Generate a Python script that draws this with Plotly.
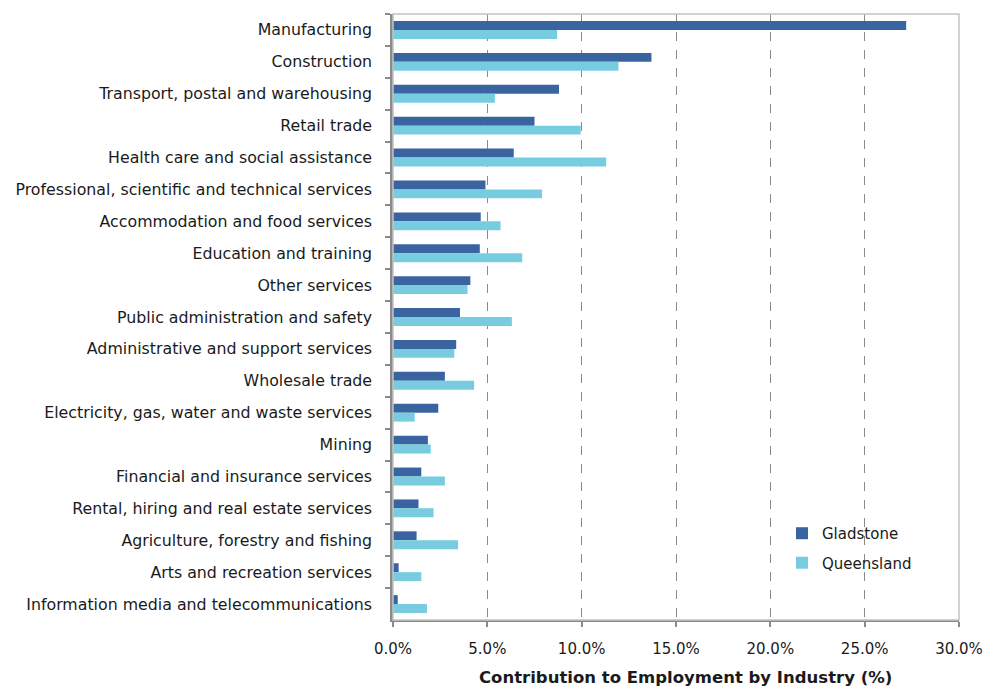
import plotly.graph_objects as go

industries = [
    "Manufacturing",
    "Construction",
    "Transport, postal and warehousing",
    "Retail trade",
    "Health care and social assistance",
    "Professional, scientific and technical services",
    "Accommodation and food services",
    "Education and training",
    "Other services",
    "Public administration and safety",
    "Administrative and support services",
    "Wholesale trade",
    "Electricity, gas, water and waste services",
    "Mining",
    "Financial and insurance services",
    "Rental, hiring and real estate services",
    "Agriculture, forestry and fishing",
    "Arts and recreation services",
    "Information media and telecommunications",
]
gladstone = [27.2, 13.7, 8.8, 7.5, 6.4, 4.9, 4.65, 4.6, 4.1, 3.55, 3.35, 2.75,
             2.4, 1.85, 1.5, 1.35, 1.25, 0.3, 0.25]
queensland = [8.7, 11.95, 5.4, 9.95, 11.3, 7.9, 5.7, 6.85, 3.95, 6.3, 3.25, 4.3,
              1.15, 2.0, 2.75, 2.15, 3.45, 1.5, 1.8]
x_ticks = [0, 5, 10, 15, 20, 25, 30]
x_tick_labels = ["0.0%", "5.0%", "10.0%", "15.0%", "20.0%", "25.0%", "30.0%"]

FONT = "Tahoma, DejaVu Sans, sans-serif"
TEXT = "#1a1a1a"

fig = go.Figure()
fig.add_trace(go.Bar(
    y=industries, x=gladstone, orientation="h", name="Gladstone",
    marker=dict(color="#3A64A0", line=dict(width=0)), legendgroup="g",
))
fig.add_trace(go.Bar(
    y=industries, x=queensland, orientation="h", name="Queensland",
    marker=dict(color="#78CCE0", line=dict(width=0)), legendgroup="q",
))

# light frame around the plotting area
fig.add_shape(type="rect", xref="paper", yref="paper", x0=0, x1=1, y0=0, y1=1,
              line=dict(color="#c4c4c4", width=1.5), layer="above")

# x-axis title
fig.add_annotation(
    text="<b>Contribution to Employment by Industry (%)</b>",
    xref="paper", yref="paper", x=0.516, y=-0.095, xanchor="center", yanchor="middle",
    showarrow=False, font=dict(size=16.5, family=FONT, color=TEXT),
)

fig.update_layout(
    width=985, height=686,
    margin=dict(l=393, r=26, t=14, b=66, autoexpand=False),
    paper_bgcolor="white", plot_bgcolor="white",
    barmode="group", bargap=0.44, bargroupgap=0.0,
    font=dict(family=FONT, size=15, color=TEXT),
    showlegend=True,
    legend=dict(
        x=(782 - 393) / 566, y=0.17, xanchor="left", yanchor="top",
        bgcolor="rgba(0,0,0,0)", font=dict(size=15, family=FONT, color=TEXT),
        traceorder="grouped", tracegroupgap=7,
    ),
    xaxis=dict(
        range=[0, 30], tickvals=x_ticks, ticktext=x_tick_labels,
        showgrid=True, gridcolor="#8a8a8a", griddash="dash", gridwidth=1.2,
        zeroline=False, showline=True, linecolor="#8a8a8a", linewidth=2,
        ticks="outside", ticklen=5, tickcolor="#8a8a8a", tickwidth=1.5,
        tickfont=dict(size=15, family=FONT, color=TEXT), ticklabelstandoff=9,
    ),
    yaxis=dict(
        autorange="reversed", showline=True, linecolor="#8a8a8a", linewidth=2.5,
        ticks="outside", ticklen=5, tickcolor="#8a8a8a", tickwidth=1.5,
        tickson="boundaries", showgrid=False,
        tickfont=dict(size=15.8, family=FONT, color=TEXT), ticklabelstandoff=15,
    ),
)

fig.write_html("out.html")
